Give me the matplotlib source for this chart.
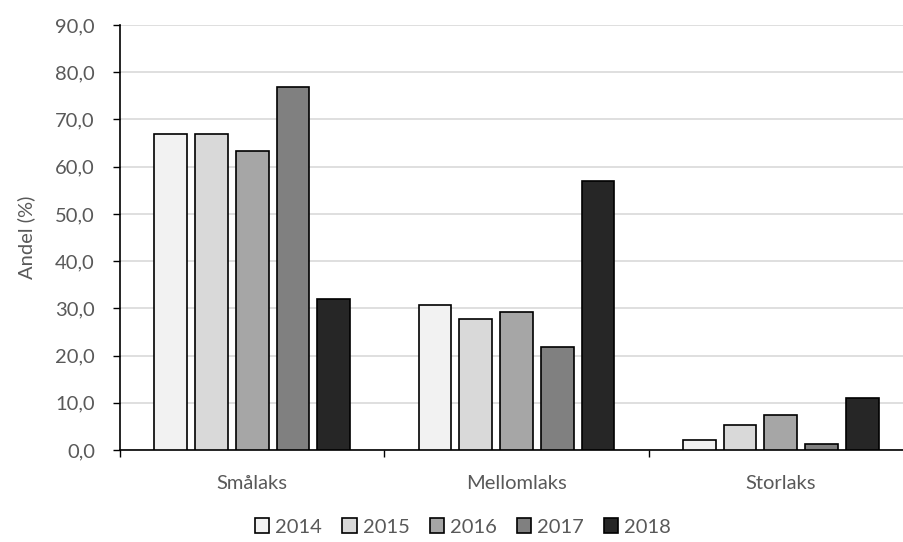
import matplotlib
matplotlib.use('Agg')
import matplotlib.pyplot as plt
import numpy as np

plt.rcParams['font.family'] = ['Lato', 'DejaVu Sans']

categories = ['Smålaks', 'Mellomlaks', 'Storlaks']
years = ['2014', '2015', '2016', '2017', '2018']
values = {
    '2014': [67.0, 30.8, 2.2],
    '2015': [67.0, 27.8, 5.2],
    '2016': [63.4, 29.2, 7.4],
    '2017': [76.8, 21.9, 1.3],
    '2018': [31.9, 57.0, 11.1],
}
colors = ['#f2f2f2', '#d9d9d9', '#a6a6a6', '#808080', '#262626']

text_color = '#595959'
fs = 14.5

fig = plt.figure(figsize=(9.04, 5.42), dpi=100)
ax = fig.add_axes([120/904, 1 - 450/542, 793/904, 425/542])

x = np.arange(len(categories))
step = 40.7 / 264.3
width = 32.7 / 264.3
for i, (yr, col) in enumerate(zip(years, colors)):
    ax.bar(x + (i - 2) * step, values[yr], width, color=col,
           edgecolor='black', linewidth=1.2, label=yr, zorder=3)

ax.set_xlim(-0.5, len(categories) - 0.5)
ax.set_ylim(0, 90)
ax.set_yticks(np.arange(0, 91, 10))
ax.set_yticklabels([('%.1f' % v).replace('.', ',') for v in np.arange(0, 91, 10)])
ax.yaxis.grid(True, color='#d9d9d9', linewidth=1.2, zorder=0)
ax.set_axisbelow(True)

# category labels sit between the boundary ticks
ax.set_xticks(np.arange(-0.5, len(categories), 1.0))
ax.set_xticklabels([])
ax.set_xticks(x, minor=True)
ax.set_xticklabels(categories, minor=True)
ax.tick_params(axis='x', which='major', length=5, width=1, direction='out', color='black')
ax.tick_params(axis='x', which='minor', length=0, pad=18, labelsize=fs, labelcolor=text_color)
ax.tick_params(axis='y', length=5, width=1, direction='out', color='black',
               labelsize=fs, labelcolor=text_color, pad=13)

for side in ['top', 'right']:
    ax.spines[side].set_visible(False)
ax.spines['left'].set_color('black')
ax.spines['bottom'].set_color('black')
ax.spines['left'].set_linewidth(1.2)
ax.spines['bottom'].set_linewidth(1.2)

ax.set_ylabel('Andel (%)', fontsize=fs, color=text_color)
ax.yaxis.set_label_coords(-85/793, 0.5)

leg = fig.legend(loc='center', bbox_to_anchor=(463/904, 1 - 527/542), ncol=5,
                 frameon=False, fontsize=fs, handlelength=0.7, handleheight=0.7,
                 handletextpad=0.3, columnspacing=1.0, borderaxespad=0)
for t in leg.get_texts():
    t.set_color(text_color)

fig.savefig('out.png', dpi=100)
